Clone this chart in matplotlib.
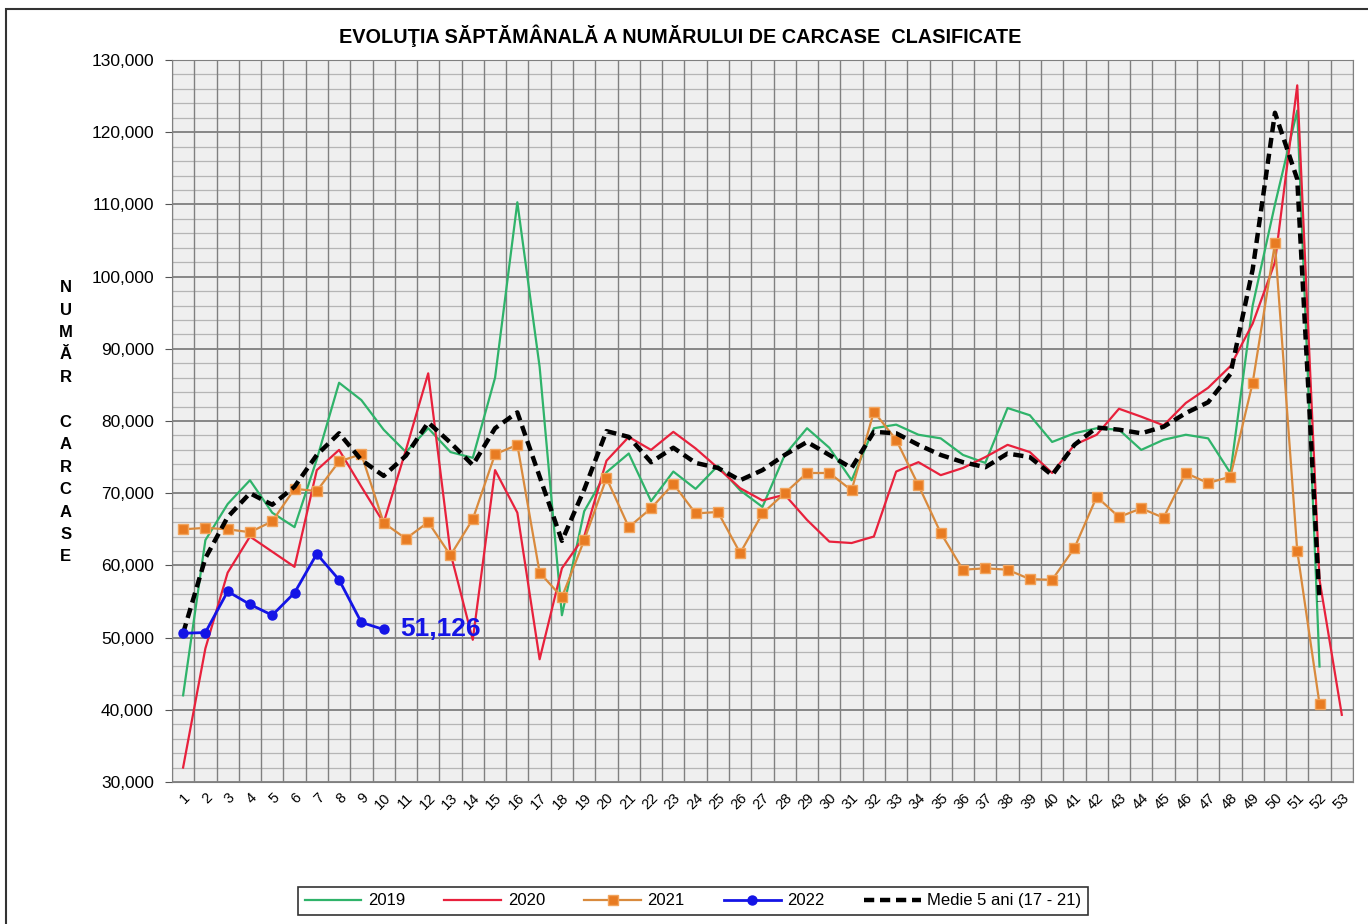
import numpy as np
import matplotlib
matplotlib.use("Agg")
import matplotlib.pyplot as plt
from matplotlib.ticker import FuncFormatter, MultipleLocator
from matplotlib.patches import Rectangle

plt.rcParams['font.family'] = ['Liberation Sans', 'DejaVu Sans']

# weekly classified carcasses
y2019 = [42000, 63500, 68500, 71800, 67300, 65300, 74700, 85300, 82900, 78800,
         75700, 79000, 75700, 74900, 86000, 110300, 87500, 53100, 67500, 72900,
         75500, 68900, 73000, 70600, 73800, 70400, 68100, 75300, 79000, 76300,
         71800, 79000, 79500, 78100, 77600, 75300, 74200, 81800, 80800, 77100,
         78300, 79000, 78800, 76000, 77400, 78100, 77600, 72800, 96000, 110000,
         123000, 46000]
y2020 = [32000, 48500, 59000, 64000, 61900, 59800, 73200, 76000, 70900, 65900,
         76000, 86600, 61700, 49700, 73200, 67300, 47000, 59600, 64000, 74500,
         77800, 76000, 78500, 76200, 73500, 70700, 69000, 69800, 66300, 63300,
         63100, 64000, 73000, 74300, 72500, 73500, 75000, 76700, 75700, 72800,
         76700, 78100, 81700, 80600, 79400, 82500, 84600, 87600, 93500, 102000,
         126500, 58000, 39300]
y2021 = [65000, 65200, 65000, 64600, 66100, 70600, 70300, 74400, 75400, 65900,
         63700, 66000, 61400, 66400, 75400, 76700, 59000, 55600, 63500, 72100,
         65300, 67900, 71300, 67200, 67400, 61700, 67200, 70000, 72800, 72800,
         70400, 81300, 77400, 71100, 64500, 59400, 59600, 59400, 58100, 58000,
         62400, 69500, 66700, 67900, 66600, 72800, 71400, 72300, 85300, 104600,
         62000, 40800]
y2022 = [50600, 50700, 56400, 54600, 53100, 56200, 61600, 58000, 52100, 51126]
medie = [50600, 61000, 66700, 70000, 68400, 70900, 75300, 78300, 74600, 72400,
         75200, 79800, 77000, 73900, 79000, 81200, 72300, 63400, 70500, 78600,
         77800, 74300, 76300, 74200, 73500, 71800, 73200, 75300, 77100, 75300,
         73500, 78500, 78300, 76700, 75300, 74300, 73600, 75500, 75000, 72500,
         76700, 79100, 78800, 78300, 79200, 81100, 82600, 86500, 101000, 122700,
         113500, 55000]
weeks = np.arange(1, 54)

fig = plt.figure(figsize=(13.68, 9.24), dpi=100)
ax = fig.add_axes([0.1257, 0.1537, 0.8633, 0.7813])
ax.set_facecolor('#efefef')

# grid: category boundaries + 2,000 minor / 10,000 major
for b in np.arange(0.5, 54, 1):
    ax.axvline(b, color='#808080', lw=1.0, zorder=1)
ax.yaxis.set_major_locator(MultipleLocator(10000))
ax.yaxis.set_minor_locator(MultipleLocator(2000))
ax.grid(which='minor', axis='y', color='#b5b5b5', lw=0.9, zorder=1)
ax.grid(which='major', axis='y', color='#6a6a6a', lw=1.1, zorder=1)
ax.set_axisbelow(True)

ax.plot(weeks[:len(y2019)], y2019, color='#2fb36a', lw=1.6, label='2019', zorder=3)
ax.plot(weeks[:len(y2020)], y2020, color='#e8213c', lw=1.6, label='2020', zorder=3)
ax.plot(weeks[:len(y2021)], y2021, color='#d98a3d', lw=1.6, marker='s', ms=7,
        mfc='#e87b22', mec='#f2a45c', label='2021', zorder=4)
ax.plot(weeks[:len(y2022)], y2022, color='#1414e6', lw=2.0, marker='o', ms=6.5,
        label='2022', zorder=5)
ax.plot(weeks[:len(medie)], medie, color='black', lw=3.2, ls=(0, (2.3, 1.3)),
        label='Medie 5 ani (17 - 21)', zorder=4)

ax.annotate(f'{y2022[-1]:,}', xy=(len(y2022), y2022[-1]), xytext=(12, 0),
            textcoords='offset points', color='#1414e6', fontsize=19,
            fontweight='bold', va='center', ha='left', zorder=6)

ax.set_xlim(0.5, 53.5)
ax.set_ylim(30000, 130000)
ax.yaxis.set_major_formatter(FuncFormatter(lambda v, p: f'{int(v):,}'))
ax.tick_params(axis='y', which='major', labelsize=12.5, length=5, color='#555555', pad=8)
ax.tick_params(axis='y', which='minor', length=0)
ax.set_xticks(weeks)
ax.set_xticklabels([str(w) for w in weeks], rotation=45, ha='right',
                   rotation_mode='anchor', fontsize=10.5)
ax.tick_params(axis='x', length=0, pad=6)
for s in ax.spines.values():
    s.set_color('#808080')

fig.text(0.497, 0.961, 'EVOLUŢIA SĂPTĂMÂNALĂ A NUMĂRULUI DE CARCASE  CLASIFICATE',
         ha='center', va='center', fontsize=14.3, fontweight='bold')
fig.text(0.048, 0.543, '\n'.join(list('NUMĂR') + [''] + list('CARCASE')),
         ha='center', va='center', fontsize=12, fontweight='bold', linespacing=1.62)

leg = fig.legend(loc='center', bbox_to_anchor=(0.5066, 0.025), ncol=5,
                 fontsize=12, frameon=True, fancybox=False, edgecolor='black',
                 handlelength=3.4, columnspacing=2.35, handletextpad=0.4,
                 borderpad=0.4)
leg.get_frame().set_linewidth(1.2)

fig.patches.append(Rectangle((0.0045, -0.01), 1.2, 1.0, transform=fig.transFigure,
                             fill=False, edgecolor='#333333', lw=1.5))

fig.savefig('out.png', dpi=100)
